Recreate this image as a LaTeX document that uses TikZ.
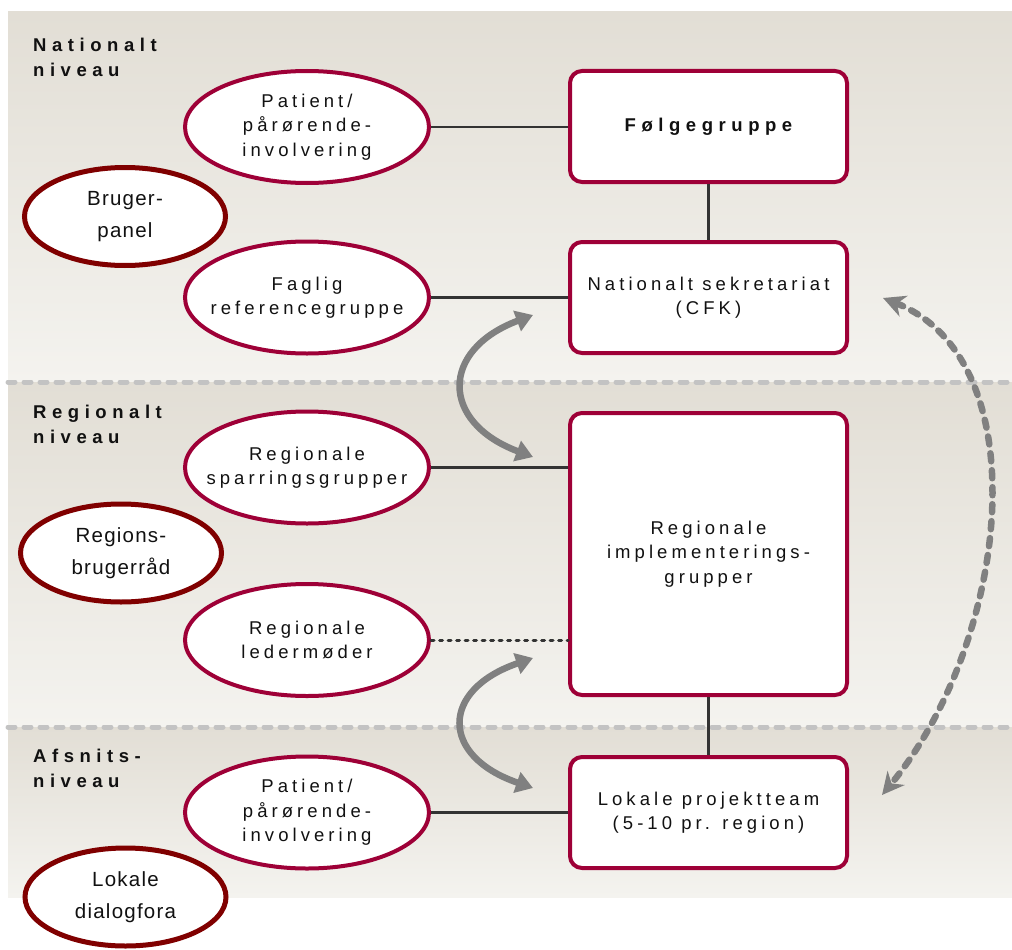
\documentclass[tikz,border=0pt]{standalone}
\usepackage{fontspec}
\setmainfont{Liberation Sans}
\newfontfamily\lsreg[LetterSpace=22]{Liberation Sans}
\newfontfamily\lsbfam[LetterSpace=30]{Liberation Sans}
\newfontfamily\dkfont[LetterSpace=6]{Liberation Sans}
\usetikzlibrary{arrows.meta,shapes.geometric}
\definecolor{crimson}{RGB}{158,0,55}
\definecolor{darkred}{RGB}{128,0,0}
\definecolor{conncol}{RGB}{51,51,51}
\definecolor{arrgray}{RGB}{128,128,128}
\definecolor{sepgray}{RGB}{195,195,195}
\definecolor{bgdark}{RGB}{226,222,213}
\definecolor{bglight}{RGB}{244,243,239}
\definecolor{txt}{RGB}{17,17,17}
\begin{document}
\begin{tikzpicture}[x=1pt,y=-1pt,
  crim/.style={draw=crimson,line width=4pt,fill=white},
  ell/.style={crim,ellipse,minimum width=244pt,minimum height=112pt,inner xsep=-40pt,inner ysep=-15pt,align=center,font=\lsreg\fontsize{18.5}{24.5}\selectfont,text=txt},
  dell/.style={ellipse,draw=darkred,line width=5pt,fill=white,minimum width=201pt,minimum height=98pt,inner xsep=-30pt,inner ysep=-15pt,align=center,font=\dkfont\fontsize{20.5}{31.5}\selectfont,text=txt},
  box/.style={crim,rounded corners=12pt,minimum width=277pt,minimum height=111pt,inner sep=0pt,align=center,font=\lsreg\fontsize{18.5}{24.5}\selectfont,text=txt},
  conn/.style={draw=conncol,line width=2.5pt},
  dotconn/.style={draw=conncol,line width=3pt,line cap=round,dash pattern=on 3pt off 5.5pt},
  lvl/.style={anchor=west,align=left,inner sep=0pt,font=\lsbfam\bfseries\fontsize{18.5}{24.5}\selectfont,text=txt},
  sep/.style={draw=sepgray,line width=5pt,line cap=round,dash pattern=on 7pt off 9pt},
  garrow/.style={draw=arrgray,line width=6.5pt,{Triangle[length=17pt,width=21pt]}-{Triangle[length=17pt,width=21pt]}},
  darrow/.style={draw=arrgray,line width=6.5pt,line cap=round,dash pattern=on 8pt off 9pt,{Stealth[length=22pt,width=22pt,inset=7pt]}-{Stealth[length=22pt,width=22pt,inset=7pt]}}
]
\useasboundingbox (0,0) rectangle (1012,950);
% background bands
\shade[top color=bgdark,bottom color=bglight] (8,12) rectangle (1012,382);
\shade[top color=bgdark,bottom color=bglight] (8,382) rectangle (1012,727);
\shade[top color=bgdark,bottom color=bglight] (8,727) rectangle (1012,897);
\draw[sep] (8,382) -- (1012,382);
\draw[sep] (8,727) -- (1012,727);

% level labels
\node[lvl] (lvlnat) at (33,57.3) {Nationalt\\niveau};
\node[lvl] (lvlreg) at (33,424.5) {Regionalt\\niveau};
\node[lvl] (lvlafs) at (33,768.5) {Afsnits-\\niveau};

% boxes
\node[box] (folge) at (708.5,126.5) {{\lsbfam\bfseries Følgegruppe}};
\node[box] (sekr) at (708.5,297.5) {Nationalt sekretariat\\(CFK)};
\node[box,minimum height=282pt] (impl) at (708.5,554) {Regionale\\implementerings-\\grupper};
\node[box] (lokal) at (708.5,812.5) {Lokale projektteam\\(5-10 pr. region)};

% crimson ellipses
\node[ell] (pat1) at (307,127) {Patient/\\pårørende-\\involvering};
\node[ell] (fag) at (307,297.5) {Faglig\\referencegruppe};
\node[ell] (spar) at (307,467.5) {Regionale\\sparringsgrupper};
\node[ell] (leder) at (307,640) {Regionale\\ledermøder};
\node[ell] (pat2) at (307,812.5) {Patient/\\pårørende-\\involvering};

% dark red ellipses
\node[dell] (bruger) at (125,216.5) {Bruger-\\panel};
\node[dell] (regbr) at (121,553) {Regions-\\brugerråd};
\node[dell] (dialog) at (125.5,897) {Lokale\\dialogfora};

% connectors
\draw[conn] (pat1.east) -- (pat1.east -| folge.west);
\draw[conn] (fag.east) -- (fag.east -| sekr.west);
\draw[conn] (spar.east) -- (spar.east -| impl.west);
\draw[dotconn] (leder.east) -- (leder.east -| impl.west);
\draw[conn] (pat2.east) -- (pat2.east -| lokal.west);
\draw[conn] (folge.south) -- (sekr.north);
\draw[conn] (impl.south) -- (lokal.north);

% curved arrows
\coordinate (a1s) at (533,315);
\coordinate (a1e) at (533,457);
\coordinate (a2s) at (533,658);
\coordinate (a2e) at (533,788);
\coordinate (dts) at (883,298);
\coordinate (dte) at (882,795);
\draw[garrow] (a1s) .. controls (440,350) and (440,422) .. (a1e);
\draw[garrow] (a2s) .. controls (440,690) and (440,756) .. (a2e);
\draw[darrow] (dts) .. controls (1040,360) and (1010,640) .. (dte);
\end{tikzpicture}
\end{document}
